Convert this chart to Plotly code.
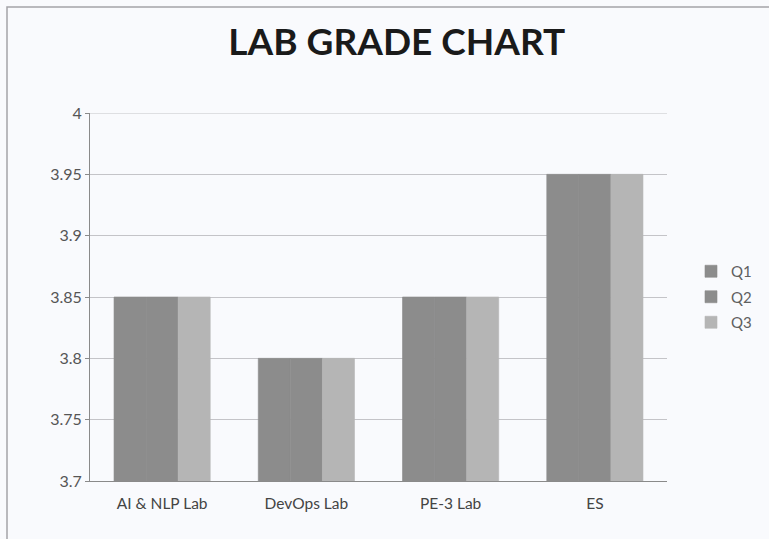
import plotly.graph_objects as go

# Lab grades per quarter
labs = ["AI & NLP Lab", "DevOps Lab", "PE-3 Lab", "ES"]
q1 = [3.85, 3.80, 3.85, 3.95]
q2 = [3.85, 3.80, 3.85, 3.95]
q3 = [3.85, 3.80, 3.85, 3.95]
series_names = ["Q1", "Q2", "Q3"]
series_colors = ["#8c8c8c", "#8c8c8c", "#b5b5b5"]
y_ticks = [3.7, 3.75, 3.8, 3.85, 3.9, 3.95, 4]
y_tick_text = ["3.7", "3.75", "3.8", "3.85", "3.9", "3.95", "4"]
y_range = [3.7, 4]

W, H = 769, 539
left, right, top, bottom = 90, 102, 113, 58
pw, ph = W - left - right, H - top - bottom

fig = go.Figure()
for name, vals, col in zip(series_names, [q1, q2, q3], series_colors):
    fig.add_trace(go.Bar(
        x=labs, y=vals, name=name, marker_color=col,
        marker_line=dict(width=0.6, color=col), legendgroup=name,
    ))

# outer chart frame (in paper units relative to the plot area)
def px_x(px):
    return (px - left) / pw

def px_y(py):
    return (H - bottom - py) / ph

fig.add_shape(type="rect", xref="paper", yref="paper",
              x0=px_x(7), x1=px_x(780), y0=px_y(548), y1=px_y(7),
              line=dict(color="#a4a4a8", width=1.5), fillcolor="rgba(0,0,0,0)",
              layer="below")
# gridline at the top of the value range
fig.add_shape(type="line", xref="paper", yref="y",
              x0=0, x1=1, y0=y_range[1], y1=y_range[1],
              line=dict(color="#c4c4c8", width=1), layer="below")

fig.update_layout(
    width=W, height=H,
    margin=dict(l=left, r=right, t=top, b=bottom),
    paper_bgcolor="#f9fafd", plot_bgcolor="#f9fafd",
    barmode="group", bargap=0.333, bargroupgap=0,
    title=dict(text="<b>LAB GRADE CHART</b>", x=0.516, xanchor="center",
               y=1 - 42 / H, yanchor="middle",
               font=dict(family="Lato", size=37, color="#1a1a1a")),
    font=dict(family="Lato", size=15, color="#555555"),
    legend=dict(x=px_x(691), y=px_y(297), xanchor="left", yanchor="middle",
                font=dict(size=15, color="#606060"), tracegroupgap=3,
                bgcolor="rgba(0,0,0,0)", itemwidth=30),
    showlegend=True,
)
fig.update_xaxes(showline=True, linecolor="#8a8a8a", linewidth=1,
                 showgrid=False, ticks="", ticklabelstandoff=8,
                 tickfont=dict(size=15.5, color="#444444"))
fig.update_yaxes(range=y_range, tickvals=y_ticks, ticktext=y_tick_text,
                 showline=True, linecolor="#8a8a8a", linewidth=1,
                 showgrid=True, gridcolor="#c4c4c8", gridwidth=1,
                 ticks="outside", ticklen=4, tickcolor="#8a8a8a",
                 tickfont=dict(size=16, color="#555555"), zeroline=False)

fig.write_html("out.html")
